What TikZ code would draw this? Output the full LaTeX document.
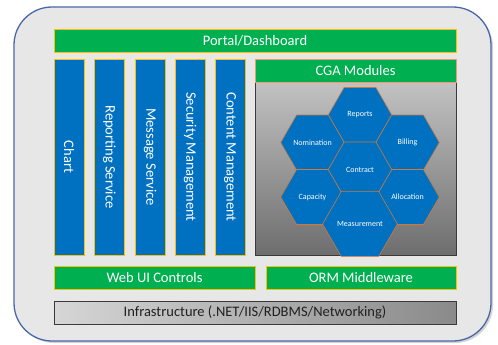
\documentclass[tikz,border=0pt]{standalone}
\usepackage{fontspec}
\setmainfont{Carlito}
\usetikzlibrary{shapes.geometric,shadows}
\definecolor{cgreen}{HTML}{00B050}
\definecolor{cblue}{HTML}{0070C0}
\definecolor{barline}{HTML}{FFC000}
\definecolor{hexline}{HTML}{D0783A}
\definecolor{hdrline}{HTML}{EE9A6E}
\definecolor{outerfill}{HTML}{E7E7E7}
\definecolor{outerline}{HTML}{4A68A8}
\definecolor{darkline}{HTML}{3A3A3A}
\definecolor{gtop}{HTML}{C2C2C2}
\definecolor{gbot}{HTML}{6E6E6E}
\definecolor{ileft}{HTML}{D6D6D6}
\definecolor{iright}{HTML}{8A8A8A}
\definecolor{itext}{HTML}{202020}
\begin{document}
\begin{tikzpicture}[x=1pt,y=-1pt,
  mainfont/.style={font=\fontsize{14.5}{16}\selectfont},
  greenbar/.style={draw=barline, fill=cgreen, line width=0.8pt, text=white, mainfont, inner sep=0pt, minimum height=23pt},
  bluebar/.style={draw=barline, fill=cblue, line width=0.8pt, text=white, mainfont, inner sep=0pt, rotate=-90, minimum width=196pt, minimum height=30pt},
  hexa/.style={regular polygon, regular polygon sides=6, minimum size=63.5pt, inner sep=0pt, draw=hexline, line width=0.6pt, fill=cblue, text=white, font=\fontsize{8}{9}\selectfont}
]
\useasboundingbox (0,0) rectangle (498,345);
% outer panel
\node[draw=outerline, line width=1.3pt, fill=outerfill, rounded corners=38pt, minimum width=477pt, minimum height=334pt, inner sep=0pt,
  drop shadow={shadow xshift=2pt, shadow yshift=-2pt, opacity=0.35}] (outer) at (252.5,174) {};
% top bar
\node[greenbar, minimum width=402pt] (portal) at (255,40.5) {Portal/Dashboard};
% vertical bars
\node[bluebar] (chart) at (69,157) {Chart};
\node[bluebar] (rep) at (109.5,157) {Reporting Service};
\node[bluebar] (msg) at (150,157) {Message Service};
\node[bluebar] (sec) at (190,157) {Security Management};
\node[bluebar] (cnt) at (230,157) {Content Management};
% CGA modules
\node[draw=darkline, line width=1pt, top color=gtop, bottom color=gbot, minimum width=201pt, minimum height=173pt, inner sep=0pt] (gbox) at (355.5,168.5) {};
\node[greenbar, draw=hdrline, minimum width=201pt] (cga) at (355.5,70.5) {CGA Modules};
% hexagons
\node[hexa] (hrep) at (360,115) {Reports};
\node[hexa] (hnom) at (312.5,142.5) {Nomination};
\node[hexa] (hbil) at (407.5,142.5) {Billing};
\node[hexa] (hcap) at (312.5,197) {Capacity};
\node[hexa] (hall) at (407.5,197) {Allocation};
\node[hexa] (hcon) at (360,169.5) {Contract};
\node[hexa] (hmea) at (360,224) {Measurement};
% bottom bars
\node[greenbar, minimum width=201pt] (web) at (154.5,277.5) {Web UI Controls};
\node[greenbar, minimum width=190pt] (orm) at (361,277.5) {ORM Middleware};
\node[draw=darkline, line width=1pt, left color=ileft, right color=iright, text=itext, mainfont, inner sep=0pt, minimum width=402pt, minimum height=23pt] (infra) at (255,312.5) {Infrastructure (.NET/IIS/RDBMS/Networking)};
\end{tikzpicture}
\end{document}
